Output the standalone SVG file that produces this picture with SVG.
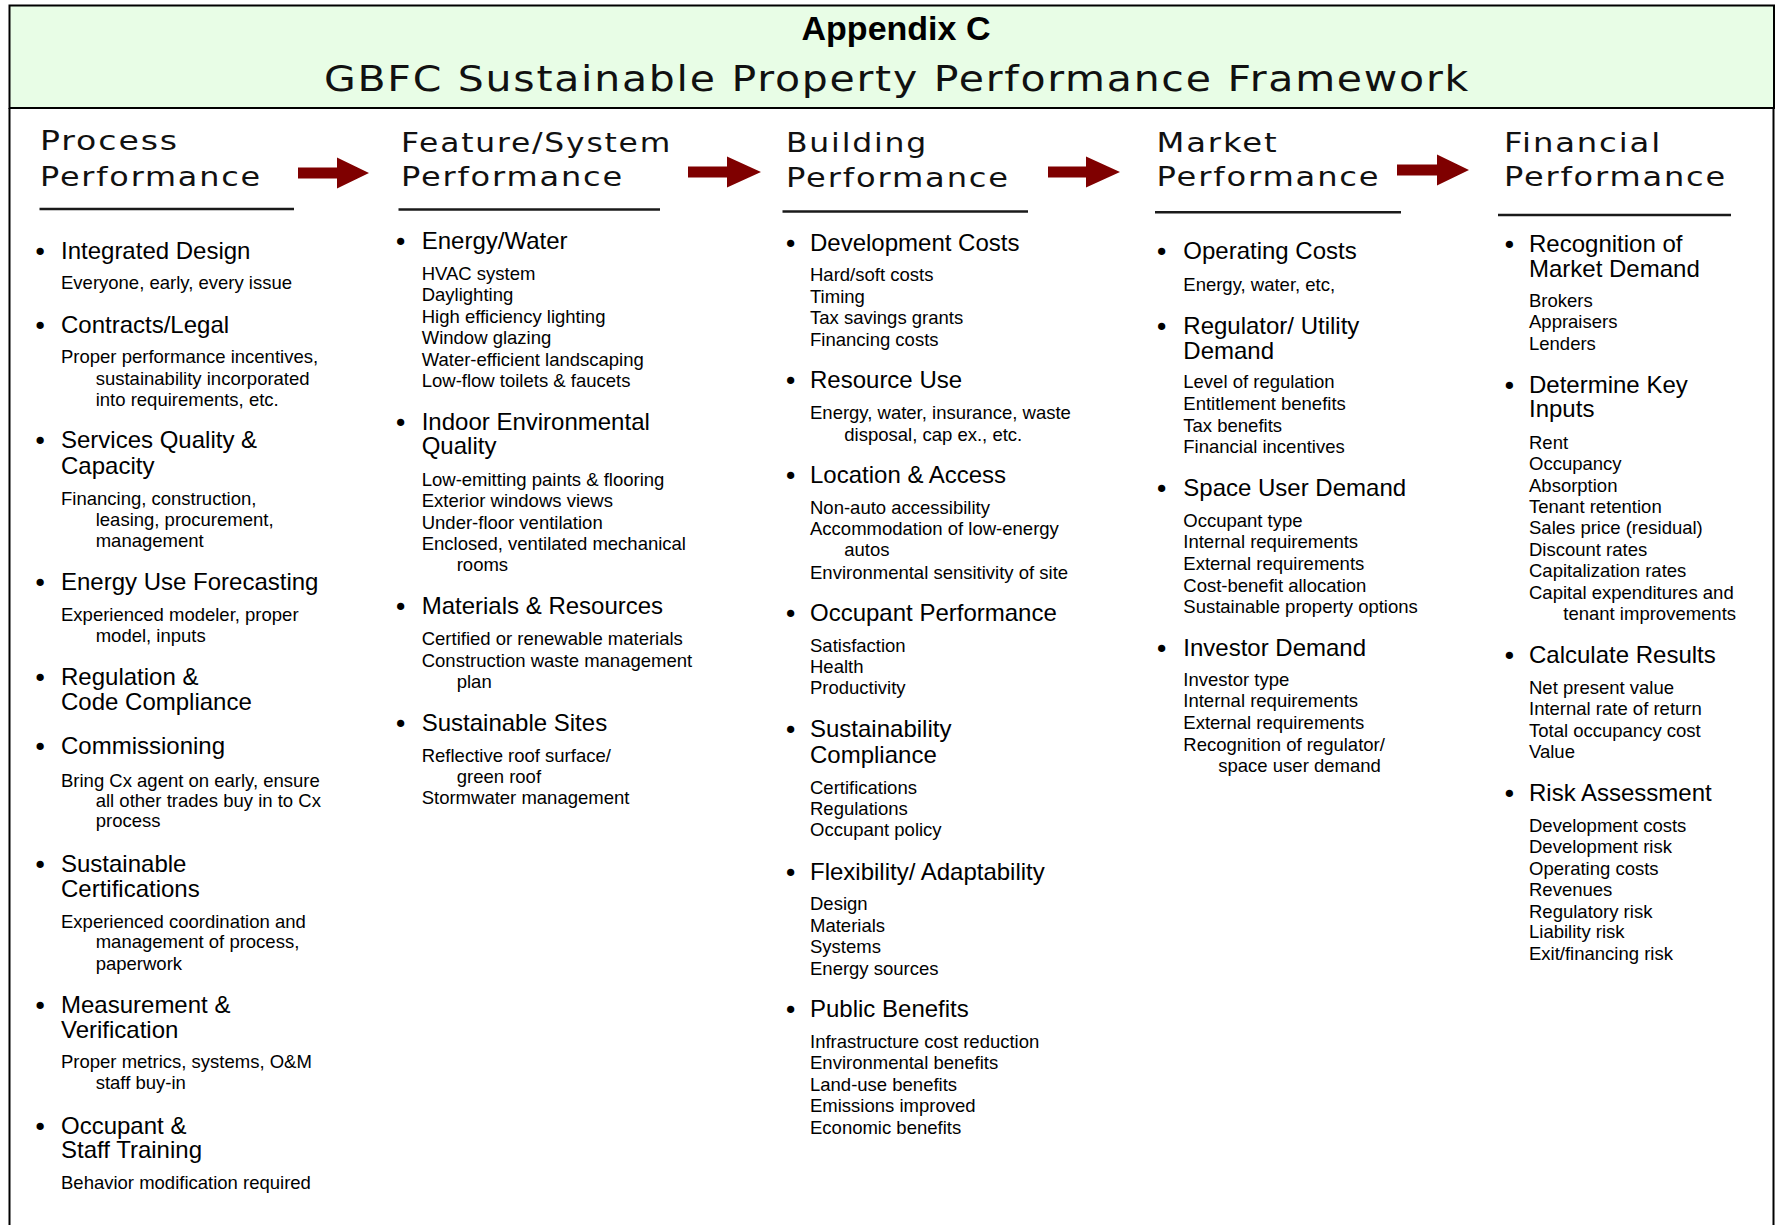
<svg xmlns="http://www.w3.org/2000/svg" width="1776" height="1225" viewBox="0 0 1776 1225">
<defs>
<style>
.m{font-family:"Liberation Sans",Arial,sans-serif;font-size:24px;fill:#000}
.s{font-family:"Liberation Sans",Arial,sans-serif;font-size:18.5px;fill:#000}
.b{font-family:"DejaVu Sans",sans-serif;font-size:25px;fill:#000;text-anchor:middle}
.h{font-family:"DejaVu Sans",Verdana,sans-serif;font-size:26px;fill:#111;letter-spacing:1.5px}
.ul{stroke:#1a1a1a;stroke-width:2.5}
.arr{fill:#7f0000}
.frame{stroke:#000;stroke-width:2;fill:none}
</style>
</defs>
<rect width="1776" height="1225" fill="#fff"/>
<g id="title">
<rect x="9.5" y="5.5" width="1764.5" height="102.5" fill="#e8fde6" stroke="#000" stroke-width="2"/>
<text x="896" y="39.5" text-anchor="middle" font-family="Liberation Sans,Arial,sans-serif" font-weight="bold" font-size="34">Appendix C</text>
<text x="324" y="90.5" font-family="DejaVu Sans,Verdana,sans-serif" font-size="35" fill="#111" letter-spacing="1.5" textLength="1146" lengthAdjust="spacingAndGlyphs">GBFC Sustainable Property Performance Framework</text>
</g>
<path class="frame" d="M9.5 108 V1225 M1773.5 108 V1225"/>

<g id="connectors">
<polygon class="arr" points="298,167.5 337,167.5 337,157.5 369,173 337,188.5 337,178.5 298,178.5"/>
<polygon class="arr" points="688,166.5 727,166.5 727,156.5 761,172 727,187.5 727,177.5 688,177.5"/>
<polygon class="arr" points="1048,166.5 1086,166.5 1086,156.5 1120,172 1086,187.5 1086,177.5 1048,177.5"/>
<polygon class="arr" points="1397,164.5 1437,164.5 1437,154.5 1469,170 1437,185.5 1437,175.5 1397,175.5"/>
</g>

<g id="process">
<text class="h" x="40" y="150" textLength="139" lengthAdjust="spacingAndGlyphs">Process</text>
<text class="h" x="40" y="185.5" textLength="222" lengthAdjust="spacingAndGlyphs">Performance</text>
<line class="ul" x1="39.5" y1="209" x2="294" y2="209"/>
<text class="b" x="40" y="261">•</text><text class="m" x="61" y="259">Integrated Design</text>
<text class="s" x="61" y="289.3">Everyone, early, every issue</text>
<text class="b" x="40" y="334.7">•</text><text class="m" x="61" y="332.7">Contracts/Legal</text>
<text class="s" x="61" y="363.3">Proper performance incentives,</text>
<text class="s" x="95.7" y="385">sustainability incorporated</text>
<text class="s" x="95.7" y="405.7">into requirements, etc.</text>
<text class="b" x="40" y="450.3">•</text><text class="m" x="61" y="448.3">Services Quality &amp;</text>
<text class="m" x="61" y="474">Capacity</text>
<text class="s" x="61" y="505">Financing, construction,</text>
<text class="s" x="95.7" y="526">leasing, procurement,</text>
<text class="s" x="95.7" y="546.7">management</text>
<text class="b" x="40" y="592">•</text><text class="m" x="61" y="590">Energy Use Forecasting</text>
<text class="s" x="61" y="620.7">Experienced modeler, proper</text>
<text class="s" x="95.7" y="641.7">model, inputs</text>
<text class="b" x="40" y="687">•</text><text class="m" x="61" y="685">Regulation &amp;</text>
<text class="m" x="61" y="710">Code Compliance</text>
<text class="b" x="40" y="756.2">•</text><text class="m" x="61" y="754.2">Commissioning</text>
<text class="s" x="61" y="787.1">Bring Cx agent on early, ensure</text>
<text class="s" x="95.7" y="807.1">all other trades buy in to Cx</text>
<text class="s" x="95.7" y="827.2">process</text>
<text class="b" x="40" y="874.4">•</text><text class="m" x="61" y="872.4">Sustainable</text>
<text class="m" x="61" y="896.5">Certifications</text>
<text class="s" x="61" y="927.7">Experienced coordination and</text>
<text class="s" x="95.7" y="948.4">management of process,</text>
<text class="s" x="95.7" y="969.5">paperwork</text>
<text class="b" x="40" y="1015">•</text><text class="m" x="61" y="1013">Measurement &amp;</text>
<text class="m" x="61" y="1038.2">Verification</text>
<text class="s" x="61" y="1068.3">Proper metrics, systems, O&amp;M</text>
<text class="s" x="95.7" y="1089">staff buy-in</text>
<text class="b" x="40" y="1135.6">•</text><text class="m" x="61" y="1133.6">Occupant &amp;</text>
<text class="m" x="61" y="1158">Staff Training</text>
<text class="s" x="61" y="1188.8">Behavior modification required</text>
</g>

<g id="feature-system">
<text class="h" x="401" y="152" textLength="271" lengthAdjust="spacingAndGlyphs">Feature/System</text>
<text class="h" x="401" y="185.5" textLength="223" lengthAdjust="spacingAndGlyphs">Performance</text>
<line class="ul" x1="398.5" y1="209.5" x2="660" y2="209.5"/>
<text class="b" x="400.7" y="250.7">•</text><text class="m" x="421.7" y="248.7">Energy/Water</text>
<text class="s" x="421.7" y="280.1">HVAC system</text>
<text class="s" x="421.7" y="301.1">Daylighting</text>
<text class="s" x="421.7" y="322.6">High efficiency lighting</text>
<text class="s" x="421.7" y="344">Window glazing</text>
<text class="s" x="421.7" y="365.8">Water-efficient landscaping</text>
<text class="s" x="421.7" y="387.2">Low-flow toilets &amp; faucets</text>
<text class="b" x="400.7" y="431.7">•</text><text class="m" x="421.7" y="429.7">Indoor Environmental</text>
<text class="m" x="421.7" y="454.2">Quality</text>
<text class="s" x="421.7" y="486">Low-emitting paints &amp; flooring</text>
<text class="s" x="421.7" y="507">Exterior windows views</text>
<text class="s" x="421.7" y="528.8">Under-floor ventilation</text>
<text class="s" x="421.7" y="549.9">Enclosed, ventilated mechanical</text>
<text class="s" x="456.7" y="571.3">rooms</text>
<text class="b" x="400.7" y="616.1">•</text><text class="m" x="421.7" y="614.1">Materials &amp; Resources</text>
<text class="s" x="421.7" y="644.8">Certified or renewable materials</text>
<text class="s" x="421.7" y="667">Construction waste management</text>
<text class="s" x="456.7" y="687.6">plan</text>
<text class="b" x="400.7" y="732.8">•</text><text class="m" x="421.7" y="730.8">Sustainable Sites</text>
<text class="s" x="421.7" y="761.5">Reflective roof surface/</text>
<text class="s" x="456.7" y="782.5">green roof</text>
<text class="s" x="421.7" y="803.6">Stormwater management</text>
</g>

<g id="building">
<text class="h" x="786" y="152" textLength="142" lengthAdjust="spacingAndGlyphs">Building</text>
<text class="h" x="786" y="187" textLength="224" lengthAdjust="spacingAndGlyphs">Performance</text>
<line class="ul" x1="782.5" y1="211.5" x2="1028" y2="211.5"/>
<text class="b" x="790.7" y="252.7">•</text><text class="m" x="810" y="250.7">Development Costs</text>
<text class="s" x="810" y="281">Hard/soft costs</text>
<text class="s" x="810" y="302.7">Timing</text>
<text class="s" x="810" y="324">Tax savings grants</text>
<text class="s" x="810" y="346">Financing costs</text>
<text class="b" x="790.7" y="390.3">•</text><text class="m" x="810" y="388.3">Resource Use</text>
<text class="s" x="810" y="419.3">Energy, water, insurance, waste</text>
<text class="s" x="844.3" y="440.7">disposal, cap ex., etc.</text>
<text class="b" x="790.7" y="485.3">•</text><text class="m" x="810" y="483.3">Location &amp; Access</text>
<text class="s" x="810" y="514">Non-auto accessibility</text>
<text class="s" x="810" y="535.3">Accommodation of low-energy</text>
<text class="s" x="844.3" y="556">autos</text>
<text class="s" x="810" y="578.7">Environmental sensitivity of site</text>
<text class="b" x="790.7" y="623">•</text><text class="m" x="810" y="621">Occupant Performance</text>
<text class="s" x="810" y="652">Satisfaction</text>
<text class="s" x="810" y="673.3">Health</text>
<text class="s" x="810" y="694.3">Productivity</text>
<text class="b" x="790.7" y="738.8">•</text><text class="m" x="810" y="736.8">Sustainability</text>
<text class="m" x="810" y="763">Compliance</text>
<text class="s" x="810" y="793.7">Certifications</text>
<text class="s" x="810" y="814.8">Regulations</text>
<text class="s" x="810" y="835.6">Occupant policy</text>
<text class="b" x="790.7" y="881.8">•</text><text class="m" x="810" y="879.8">Flexibility/ Adaptability</text>
<text class="s" x="810" y="909.9">Design</text>
<text class="s" x="810" y="931.7">Materials</text>
<text class="s" x="810" y="952.8">Systems</text>
<text class="s" x="810" y="974.5">Energy sources</text>
<text class="b" x="790.7" y="1019">•</text><text class="m" x="810" y="1017">Public Benefits</text>
<text class="s" x="810" y="1048.2">Infrastructure cost reduction</text>
<text class="s" x="810" y="1069">Environmental benefits</text>
<text class="s" x="810" y="1090.7">Land-use benefits</text>
<text class="s" x="810" y="1111.8">Emissions improved</text>
<text class="s" x="810" y="1133.6">Economic benefits</text>
</g>

<g id="market">
<text class="h" x="1156.5" y="151.5" textLength="122" lengthAdjust="spacingAndGlyphs">Market</text>
<text class="h" x="1156.5" y="186" textLength="224" lengthAdjust="spacingAndGlyphs">Performance</text>
<line class="ul" x1="1155" y1="212.3" x2="1401" y2="212.3"/>
<text class="b" x="1161.7" y="261.4">•</text><text class="m" x="1183.3" y="259.4">Operating Costs</text>
<text class="s" x="1183.3" y="290.8">Energy, water, etc,</text>
<text class="b" x="1161.7" y="335.6">•</text><text class="m" x="1183.3" y="333.6">Regulator/ Utility</text>
<text class="m" x="1183.3" y="358.5">Demand</text>
<text class="s" x="1183.3" y="388.4">Level of regulation</text>
<text class="s" x="1183.3" y="410.2">Entitlement benefits</text>
<text class="s" x="1183.3" y="431.6">Tax benefits</text>
<text class="s" x="1183.3" y="453.4">Financial incentives</text>
<text class="b" x="1161.7" y="498.3">•</text><text class="m" x="1183.3" y="496.3">Space User Demand</text>
<text class="s" x="1183.3" y="526.9">Occupant type</text>
<text class="s" x="1183.3" y="548.3">Internal requirements</text>
<text class="s" x="1183.3" y="570.1">External requirements</text>
<text class="s" x="1183.3" y="592">Cost-benefit allocation</text>
<text class="s" x="1183.3" y="613">Sustainable property options</text>
<text class="b" x="1161.7" y="657.5">•</text><text class="m" x="1183.3" y="655.5">Investor Demand</text>
<text class="s" x="1183.3" y="686.1">Investor type</text>
<text class="s" x="1183.3" y="707.1">Internal requirements</text>
<text class="s" x="1183.3" y="729">External requirements</text>
<text class="s" x="1183.3" y="751.1">Recognition of regulator/</text>
<text class="s" x="1218.3" y="771.5">space user demand</text>
</g>

<g id="financial">
<text class="h" x="1504" y="151.7" textLength="158" lengthAdjust="spacingAndGlyphs">Financial</text>
<text class="h" x="1504" y="185.5" textLength="223" lengthAdjust="spacingAndGlyphs">Performance</text>
<line class="ul" x1="1498" y1="215" x2="1731" y2="215"/>
<text class="b" x="1509.3" y="253.7">•</text><text class="m" x="1529" y="251.7">Recognition of</text>
<text class="m" x="1529" y="276.7">Market Demand</text>
<text class="s" x="1529" y="306.7">Brokers</text>
<text class="s" x="1529" y="328.3">Appraisers</text>
<text class="s" x="1529" y="350">Lenders</text>
<text class="b" x="1509.3" y="395.3">•</text><text class="m" x="1529" y="393.3">Determine Key</text>
<text class="m" x="1529" y="417.3">Inputs</text>
<text class="s" x="1529" y="449">Rent</text>
<text class="s" x="1529" y="470">Occupancy</text>
<text class="s" x="1529" y="491.7">Absorption</text>
<text class="s" x="1529" y="512.7">Tenant retention</text>
<text class="s" x="1529" y="534.3">Sales price (residual)</text>
<text class="s" x="1529" y="555.7">Discount rates</text>
<text class="s" x="1529" y="577.3">Capitalization rates</text>
<text class="s" x="1529" y="599">Capital expenditures and</text>
<text class="s" x="1563.3" y="620">tenant improvements</text>
<text class="b" x="1509.3" y="665.3">•</text><text class="m" x="1529" y="663.3">Calculate Results</text>
<text class="s" x="1529" y="694">Net present value</text>
<text class="s" x="1529" y="715">Internal rate of return</text>
<text class="s" x="1529" y="736.8">Total occupancy cost</text>
<text class="s" x="1529" y="757.6">Value</text>
<text class="b" x="1509.3" y="803.1">•</text><text class="m" x="1529" y="801.1">Risk Assessment</text>
<text class="s" x="1529" y="832.3">Development costs</text>
<text class="s" x="1529" y="853">Development risk</text>
<text class="s" x="1529" y="874.8">Operating costs</text>
<text class="s" x="1529" y="895.9">Revenues</text>
<text class="s" x="1529" y="917.6">Regulatory risk</text>
<text class="s" x="1529" y="938.4">Liability risk</text>
<text class="s" x="1529" y="960.2">Exit/financing risk</text>
</g>
</svg>
